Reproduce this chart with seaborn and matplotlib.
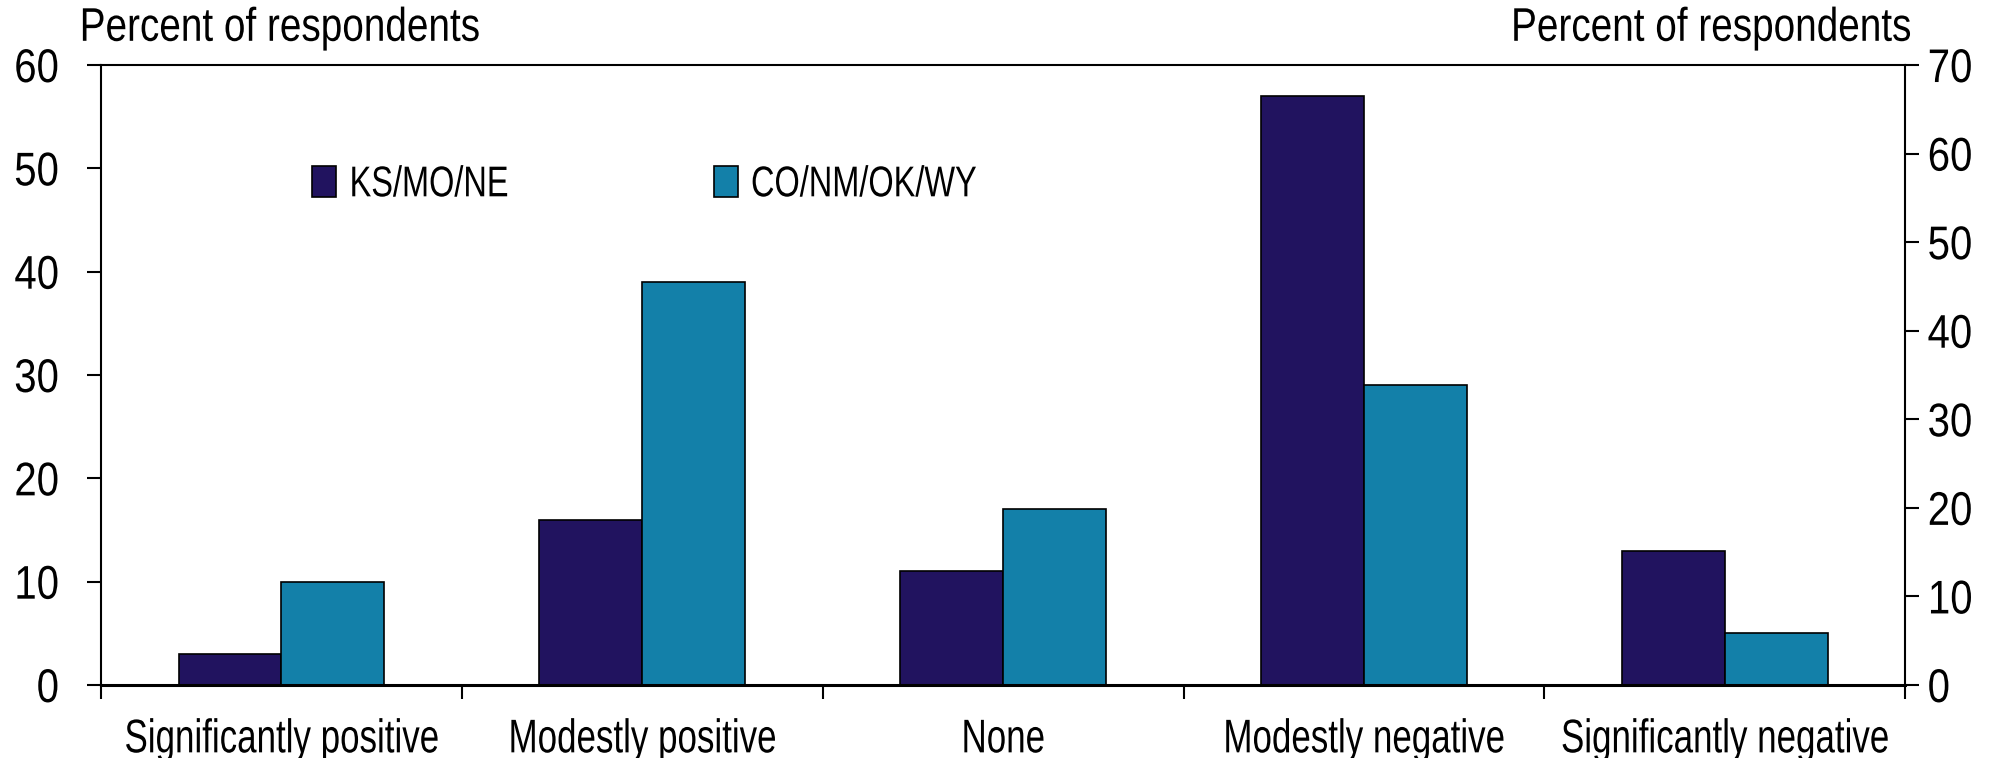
import pandas as pd
import seaborn as sns
import matplotlib.pyplot as plt
from matplotlib.ticker import MultipleLocator, FixedLocator
from matplotlib.patheffects import AbstractPathEffect
from matplotlib.transforms import Affine2D

# Data
categories = ['Significantly positive', 'Modestly positive', 'None',
              'Modestly negative', 'Significantly negative']
ks_mo_ne = [3, 16, 11, 57, 13]
co_nm_ok_wy = [10, 39, 17, 29, 5]
series_names = ['KS/MO/NE', 'CO/NM/OK/WY']
colors = ['#21135F', '#1380A9']

df = pd.DataFrame({
    'category': categories * 2,
    'value': ks_mo_ne + co_nm_ok_wy,
    'region': [series_names[0]] * 5 + [series_names[1]] * 5,
})


class Squeeze(AbstractPathEffect):
    """Narrow the glyphs horizontally (the original uses a condensed font)."""

    def __init__(self, sx, pivot='center'):
        super().__init__()
        self.sx = sx
        self.pivot = pivot

    def draw_path(self, renderer, gc, tpath, affine, rgbFace=None):
        ext = tpath.get_extents()
        px = {'left': ext.x0, 'right': ext.x1}.get(self.pivot, (ext.x0 + ext.x1) / 2)
        t = Affine2D().translate(-px, 0).scale(self.sx, 1).translate(px, 0) + affine
        renderer.draw_path(gc, tpath, t, rgbFace)


sns.set_style('white')
plt.rcParams['font.family'] = ['Liberation Sans', 'DejaVu Sans']
plt.rcParams['text.color'] = 'black'
plt.rcParams['xtick.color'] = 'black'
plt.rcParams['ytick.color'] = 'black'

fig = plt.figure(figsize=(20.05, 7.58), dpi=100)
ax = fig.add_axes([0.0504, 0.0963, 0.8998, 0.8179])

sns.barplot(data=df, x='category', y='value', hue='region', order=categories,
            hue_order=series_names, palette=colors, width=0.57, saturation=1,
            edgecolor='black', linewidth=1.2, ax=ax)

ax.set_xlim(-0.5, 4.5)
ax.set_ylim(0, 60)
ax.yaxis.set_major_locator(MultipleLocator(10))
ax.set_xlabel('')
ax.set_ylabel('')

for s in ax.spines.values():
    s.set_visible(True)
    s.set_color('black')
    s.set_linewidth(1.5)
ax.spines['bottom'].set_linewidth(2.2)

# category labels without ticks, boundary ticks as minor ticks
ax.tick_params(axis='x', which='major', length=0, pad=24, labelsize=34)
ax.xaxis.set_minor_locator(FixedLocator([-0.5, 0.5, 1.5, 2.5, 3.5, 4.5]))
ax.tick_params(axis='x', which='minor', direction='out', length=10, width=1.5,
               bottom=True, color='black')
ax.tick_params(axis='y', direction='out', length=10, width=1.5, left=True,
               color='black', labelsize=34, pad=20)

ax2 = ax.twinx()
ax2.set_ylim(0, 70)
ax2.yaxis.set_major_locator(MultipleLocator(10))
ax2.tick_params(axis='y', direction='out', length=10, width=1.5, right=True,
                color='black', labelsize=34, pad=6)
for s in ax2.spines.values():
    s.set_visible(False)

leg = ax.legend(loc='center left', bbox_to_anchor=(0.117, 0.806), ncol=2, frameon=False,
                fontsize=31, handlelength=0.55, handleheight=0.75, handletextpad=0.3,
                columnspacing=3.6, borderpad=0, borderaxespad=0)

for t in ax.get_xticklabels():
    t.set_path_effects([Squeeze(0.74, 'center')])
for t in ax.get_yticklabels():
    t.set_path_effects([Squeeze(0.85, 'right')])
for t in ax2.get_yticklabels():
    t.set_path_effects([Squeeze(0.85, 'left')])
for t in leg.get_texts():
    t.set_path_effects([Squeeze(0.755, 'left')])

t1 = fig.text(0.0394, 0.962, 'Percent of respondents', fontsize=34, ha='left', va='center')
t2 = fig.text(0.9536, 0.962, 'Percent of respondents', fontsize=34, ha='right', va='center')
t1.set_path_effects([Squeeze(0.82, 'left')])
t2.set_path_effects([Squeeze(0.82, 'right')])

fig.savefig('out.png', dpi=100)
